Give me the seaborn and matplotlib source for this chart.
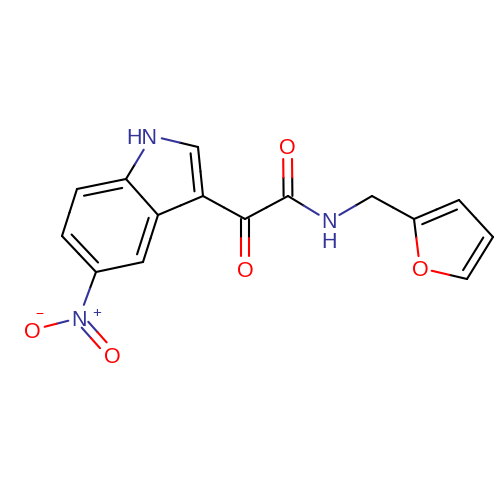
#molekul: indole glyoxamide dengan furan

import numpy as np
import pandas as pd
import matplotlib
matplotlib.use('Agg')
import matplotlib.pyplot as plt
import seaborn as sns

#data atom
atom_names = ['N1', 'C2', 'C3', 'C3a', 'C4', 'C5', 'C6', 'C7', 'C7a', 'Nn', 'Om', 'Od',
              'Ck', 'Ok', 'Ca', 'Oa', 'Na', 'Cm', 'F2', 'F3', 'F4', 'F5', 'Of']
atom_x = [152, 198, 203, 158, 143, 96, 62, 77, 126, 79, 32, 112,
          245, 245, 288, 287.5, 329, 372, 414, 459, 493, 467, 420]
atom_y = [136, 147, 196, 215, 262, 272, 236, 189, 179, 318, 330, 355,
          219, 268, 196, 147, 221, 196, 219, 200, 237, 279, 268]

#ikatan tunggal: atom a, atom b, celah a, celah b
single_a = ['C7a', 'N1', 'C2', 'C3', 'C3a', 'C4', 'C5', 'C6', 'C7', 'C5', 'Nn', 'C3', 'Ck', 'Ca',
            'Na', 'Cm', 'F2', 'F3', 'F4', 'F5', 'Of']
single_b = ['C3a', 'C2', 'C3', 'C3a', 'C4', 'C5', 'C6', 'C7', 'C7a', 'Nn', 'Om', 'Ck', 'Ca', 'Na',
            'Cm', 'F2', 'F3', 'F4', 'F5', 'Of', 'F2']
gap_a = [0, 10, 0, 0, 0, 0, 0, 0, 0, 0, 11, 0, 0, 0, 12, 0, 0, 0, 0, 0, 12]
gap_b = [0, 0, 0, 0, 0, 0, 0, 0, 0, 14, 13, 0, 0, 12, 0, 0, 0, 0, 0, 12, 0]

extra_a = ['C7a']
extra_b = ['N1']
extra_gap_a = [0]
extra_gap_b = [16]

#ikatan rangkap dalam cincin
ring_a = ['C2', 'C7', 'C6', 'C4', 'F2', 'F4']
ring_b = ['C3', 'C7a', 'C5', 'C3a', 'F3', 'F5']
ring_members = [['N1', 'C2', 'C3', 'C3a', 'C7a'],
                ['C3a', 'C4', 'C5', 'C6', 'C7', 'C7a'],
                ['C3a', 'C4', 'C5', 'C6', 'C7', 'C7a'],
                ['C3a', 'C4', 'C5', 'C6', 'C7', 'C7a'],
                ['F2', 'F3', 'F4', 'F5', 'Of'],
                ['F2', 'F3', 'F4', 'F5', 'Of']]

#ikatan rangkap C=O dan N=O
dbl_a = ['Ck', 'Ca', 'Nn']
dbl_b = ['Ok', 'Oa', 'Od']
dbl_gap_a = [0, 0, 9]
dbl_gap_b = [12, 12, 13]

#label atom
label_text = ['HN', 'N', 'H', 'N', 'O', 'O', 'O', 'O', 'O']
label_x = [142, 329, 329, 79, 32, 112, 245, 287.5, 420]
label_y = [135.5, 220, 240, 318.5, 330, 355, 269, 146.5, 267.5]
label_color = ['n', 'n', 'n', 'n', 'o', 'o', 'o', 'o', 'o']

warna = {'c': '#000000', 'n': '#333399', 'o': '#ff0000'}
pos = {n: np.array([x, y], dtype=float) for n, x, y in zip(atom_names, atom_x, atom_y)}


def kind(nama):
    return 'c' if nama[0] in 'CF' and nama != 'Of' else ('n' if nama[0] == 'N' else 'o')


rows = []


def add_segment(p, q, col):
    uid = len(rows)
    rows.append({'uid': uid, 'x': p[0], 'y': p[1], 'col': col, 'k': 0})
    rows.append({'uid': uid, 'x': q[0], 'y': q[1], 'col': col, 'k': 1})


def add_bond(a, b, ga, gb, shift=np.zeros(2)):
    p, q = pos[a], pos[b]
    u = (q - p) / np.linalg.norm(q - p)
    p2 = p + u * ga + shift
    q2 = q - u * gb + shift
    mid = (p2 + q2) / 2
    add_segment(p2, mid, kind(a))
    add_segment(mid, q2, kind(b))


for a, b, ga, gb in zip(single_a + extra_a, single_b + extra_b, gap_a + extra_gap_a, gap_b + extra_gap_b):
    add_bond(a, b, ga, gb)

#garis dalam cincin
for a, b, members in zip(ring_a, ring_b, ring_members):
    p, q = pos[a], pos[b]
    center = np.mean([pos[m] for m in members], axis=0)
    u = (q - p) / np.linalg.norm(q - p)
    n = np.array([-u[1], u[0]])
    if np.dot(center - p, n) < 0:
        n = -n
    add_segment(p + u * 5.5 + n * 8, q - u * 5.5 + n * 8, 'c')

for a, b, ga, gb in zip(dbl_a, dbl_b, dbl_gap_a, dbl_gap_b):
    p, q = pos[a], pos[b]
    u = (q - p) / np.linalg.norm(q - p)
    n = np.array([-u[1], u[0]])
    add_bond(a, b, ga, gb, n * 4.4)
    add_bond(a, b, ga, gb, -n * 4.4)

df = pd.DataFrame(rows)

sns.set_theme(style='white')
plt.rcParams['font.family'] = ['Liberation Sans', 'DejaVu Sans']

fig = plt.figure(figsize=(5, 5), dpi=100)
ax = fig.add_axes([0, 0, 1, 1])
sns.lineplot(data=df, x='x', y='y', hue='col', palette=warna, units='uid', estimator=None,
             sort=False, legend=False, linewidth=1.5, solid_capstyle='round', ax=ax)
ax.set_xlim(0, 500)
ax.set_ylim(500, 0)
ax.axis('off')

for t, x, y, c in zip(label_text, label_x, label_y, label_color):
    ax.text(x, y, t, color=warna[c], fontsize=15.5, ha='center', va='center_baseline')

#muatan
ax.text(39, 313, '\u2212', color=warna['o'], fontsize=10, ha='center', va='center_baseline')
ax.text(97, 312, '+', color=warna['n'], fontsize=11, ha='center', va='center_baseline')

fig.savefig('out.png', dpi=100, facecolor='white')
